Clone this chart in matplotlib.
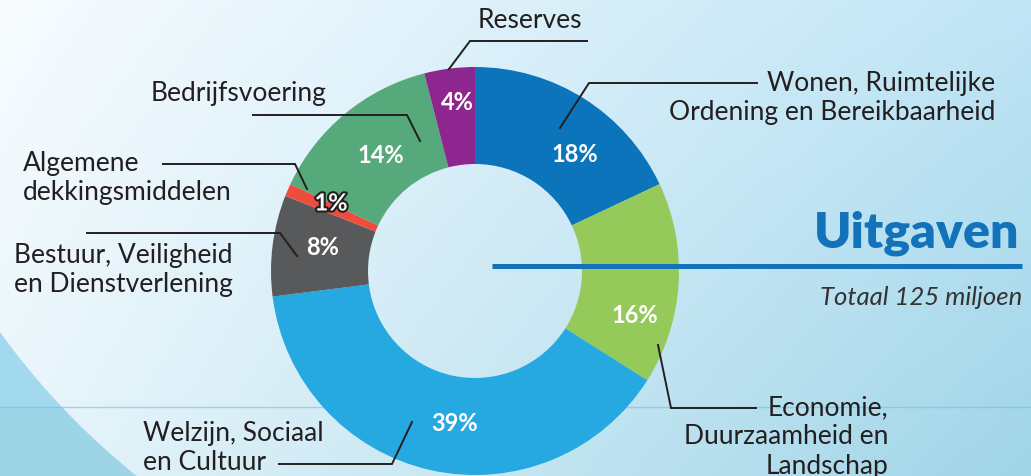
import numpy as np
import matplotlib.pyplot as plt
import matplotlib.patheffects as pe
from matplotlib.patches import Circle, Rectangle

# ---- data ----
categories = [
    "Wonen, Ruimtelijke\nOrdening en Bereikbaarheid",
    "Economie,\nDuurzaamheid en\nLandschap",
    "Welzijn, Sociaal\nen Cultuur",
    "Bestuur, Veiligheid\nen Dienstverlening",
    "Algemene\ndekkingsmiddelen",
    "Bedrijfsvoering",
    "Reserves",
]
shares = [18, 16, 39, 8, 1, 14, 4]
colors = ["#0c74bb", "#95c95a", "#26a9e0", "#58595b", "#ee4c3f", "#56a97a", "#8e268f"]
title = "Uitgaven"
subtitle = "Totaal 125 miljoen"

# ---- layout (pixel coordinates, y down) ----
W, H = 1031, 477
CX, CY, R_OUT, R_IN = 475, 272, 204, 107

pct_pos = [(575, 155), (635, 316), (455, 424), (323, 248), (331, 204), (381, 156), (457, 102)]
label_layout = [
    dict(xy=(995, 98), ha="right", leader=[(757, 84), (589, 84), (560, 129)]),
    dict(xy=(888, 437), ha="right", leader=[(756, 409), (671, 409), (658, 346)]),
    dict(xy=(143, 448), ha="left", leader=[(279, 465), (392, 465), (412, 423)]),
    dict(xy=(14, 270), ha="left", leader=[(87, 234), (280, 234), (297, 257)]),
    dict(xy=(23, 178), ha="left", leader=[(163, 165), (295, 165), (307, 190)]),
    dict(xy=(239, 93), ha="center", leader=[(253, 116), (407, 116), (420, 142)]),
    dict(xy=(530, 20), ha="center", leader=[(587, 42), (470, 42), (449, 70)]),
]

plt.rcParams["font.family"] = ["Lato", "DejaVu Sans"]

fig = plt.figure(figsize=(W / 100, H / 100), dpi=100)
ax = fig.add_axes([0, 0, 1, 1])

# background: darker blue outside, gradient inside a big circle
fig.patch.set_facecolor("#a2d9ee")
ax.add_patch(Rectangle((0, 408), W, H - 408, color="#9dd5e7", zorder=0))
tl, tr = np.array([248, 252, 255]), np.array([192, 229, 246])
bl, br = np.array([232, 245, 251]), np.array([160, 213, 232])
u = np.linspace(0, 1, 200)[None, :, None]
v = np.linspace(0, 1, 100)[:, None, None]
grad = ((1 - v) * ((1 - u) * tl + u * tr) + v * ((1 - u) * bl + u * br)) / 255
big = Circle((600, -100), 740, transform=ax.transData, facecolor="none", edgecolor="none")
ax.add_patch(big)
img = ax.imshow(grad, extent=(0, W, H, 0), aspect="auto", zorder=0.5, interpolation="bilinear")
img.set_clip_path(big)
ax.axhline(408, color="#74bde2", lw=1, alpha=0.6, zorder=0.6)

# donut (y axis is flipped, so counterclock in data = clockwise on screen)
wedges, _ = ax.pie(
    shares,
    colors=colors,
    startangle=-90,
    counterclock=True,
    radius=R_OUT,
    center=(CX, CY),
    wedgeprops=dict(width=R_OUT - R_IN, linewidth=0),
)
for w in wedges:
    w.set_zorder(2)

for value, (px, py) in zip(shares, pct_pos):
    t = ax.text(px, py, f"{value}%", color="white", fontsize=17, fontweight="bold",
                ha="center", va="center", zorder=4)
    if value == 1:
        t.set_path_effects([pe.withStroke(linewidth=3, foreground="#231f20")])

for name, lay in zip(categories, label_layout):
    ax.text(lay["xy"][0], lay["xy"][1], name, fontsize=19, color="#231f20",
            ha=lay["ha"], va="center", linespacing=1.22, zorder=4,
            multialignment=lay["ha"])
    xs, ys = zip(*lay["leader"])
    ax.plot(xs, ys, color="#231f20", lw=1.4, zorder=3, solid_joinstyle="miter")

ax.text(1019, 233, title, fontsize=36, fontweight="heavy", color="#1272ba",
        ha="right", va="center", zorder=4)
ax.plot([492, 1022], [267, 267], color="#1272ba", lw=3.6, zorder=4, solid_capstyle="butt")
ax.text(1022, 298, subtitle, fontsize=18.5, fontstyle="italic",
        color="#333333", ha="right", va="center", zorder=4)

ax.set_xlim(0, W)
ax.set_ylim(H, 0)
ax.set_aspect("equal")
ax.axis("off")

fig.savefig("out.png", dpi=100)
